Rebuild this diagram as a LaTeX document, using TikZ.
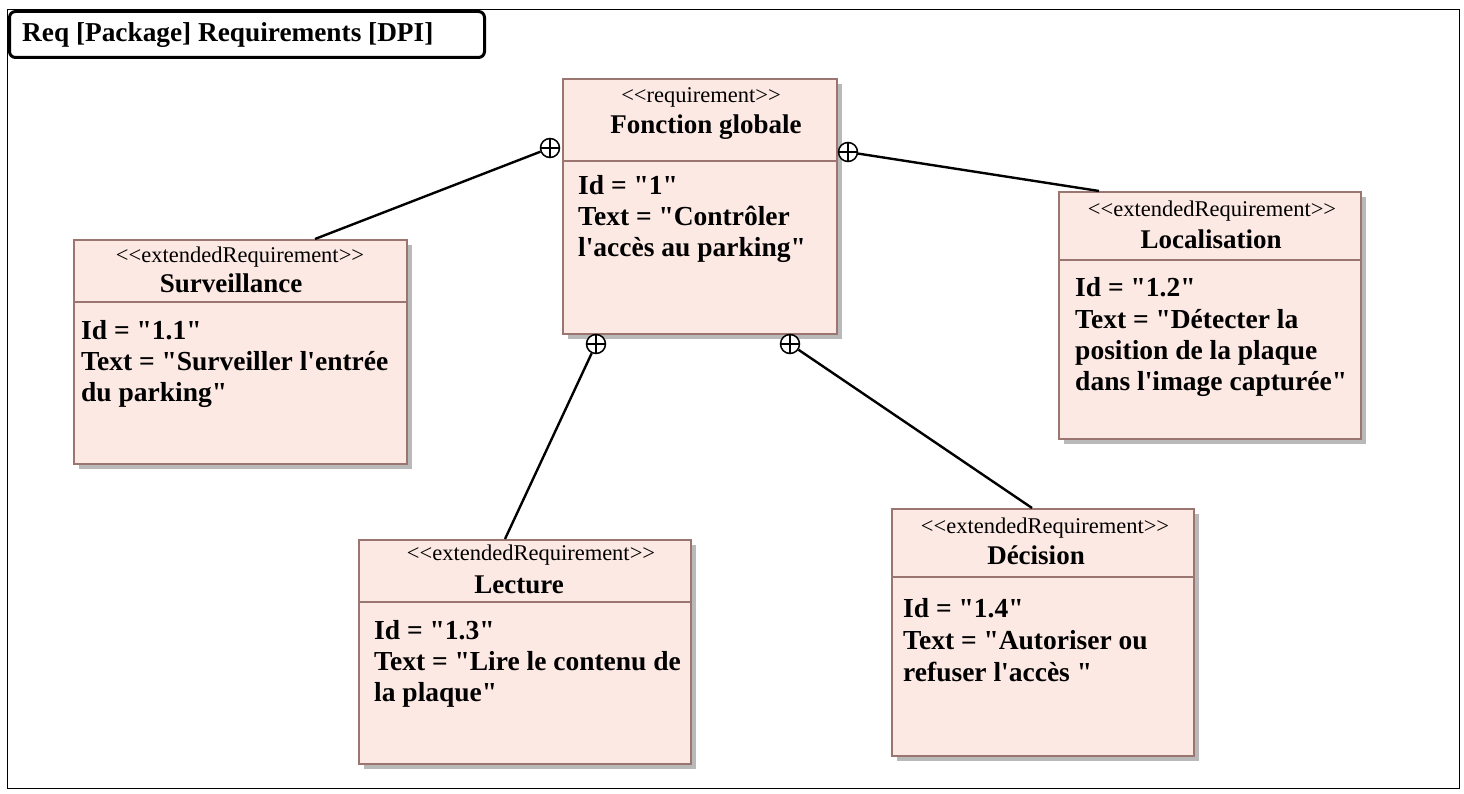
\documentclass[tikz,border=0pt]{standalone}
\usepackage{fontspec}
\newfontfamily\tnr{Liberation Serif}
\usetikzlibrary{shadows}
\definecolor{reqfill}{RGB}{253,233,228}
\definecolor{reqdraw}{RGB}{155,118,112}
\begin{document}
\begin{tikzpicture}[x=1pt,y=-1pt,
  reqbox/.style={draw=reqdraw, fill=reqfill, line width=1.6pt, rectangle, inner sep=0pt, anchor=north west,
    drop shadow={shadow xshift=5pt, shadow yshift=-5pt, fill=gray!55, opacity=1}},
  sepline/.style={draw=reqdraw, line width=1.2pt},
  stereo/.style={font=\tnr\fontsize{22.5}{26}\selectfont, anchor=base, inner sep=0pt},
  rname/.style={font=\tnr\bfseries\fontsize{27}{31}\selectfont, anchor=base, inner sep=0pt},
  body/.style={font=\tnr\bfseries\fontsize{27.5}{31}\selectfont, anchor=base west, inner sep=0pt},
  contain/.style={circle, draw, line width=1.5pt, fill=white, minimum size=19pt, inner sep=0pt,
    path picture={\draw[line width=1.3pt] (path picture bounding box.north) -- (path picture bounding box.south)
      (path picture bounding box.west) -- (path picture bounding box.east);}},
  link/.style={line width=2.4pt, black}]
\useasboundingbox (0,0) rectangle (1464,794);
\fill[white] (0,0) rectangle (1464,794);
% frame and title tab
\node[draw, line width=1.4pt, anchor=north west, minimum width=1452pt, minimum height=779pt, inner sep=0pt] (frame) at (7,9) {};
\node[draw, rounded corners=6pt, line width=3pt, fill=white, anchor=north west, minimum width=475pt, minimum height=46pt, inner sep=0pt] (tab) at (8,10) {};
\node[font=\tnr\bfseries\fontsize{27.3}{31}\selectfont, anchor=base west, inner sep=0pt] (title) at (22,42) {Req [Package] Requirements [DPI]};

% Fonction globale
\node[reqbox, minimum width=274pt, minimum height=255pt] (fg) at (562,78) {};
\draw[sepline] (562,161) -- (836,161);
\node[stereo] (fgs) at (701,103) {<<requirement>>};
\node[rname] (fgn) at (706,134) {Fonction globale};
\node[body] (fg1) at (578,195) {Id = "1"};
\node[body] (fg2) at (578,226) {Text = "Contrôler};
\node[body] (fg3) at (578,257) {l'accès au parking"};

% Surveillance
\node[reqbox, minimum width=333pt, minimum height=224pt] (sv) at (73,239) {};
\draw[sepline] (73,302) -- (406,302);
\node[stereo] (svs) at (240,263) {<<extendedRequirement>>};
\node[rname] (svn) at (231,293) {Surveillance};
\node[body] (sv1) at (81,339) {Id = "1.1"};
\node[body] (sv2) at (81,370) {Text = "Surveiller l'entrée};
\node[body] (sv3) at (81,401) {du parking"};

% Localisation
\node[reqbox, minimum width=302pt, minimum height=247pt] (lc) at (1058,191) {};
\draw[sepline] (1058,260) -- (1360,260);
\node[stereo] (lcs) at (1212,217) {<<extendedRequirement>>};
\node[rname] (lcn) at (1211,249) {Localisation};
\node[body] (lc1) at (1075,297) {Id = "1.2"};
\node[body] (lc2) at (1075,328) {Text = "Détecter la};
\node[body] (lc3) at (1075,359) {position de la plaque};
\node[body] (lc4) at (1075,390) {dans l'image capturée"};

% Lecture
\node[reqbox, minimum width=332pt, minimum height=224pt] (lt) at (358,539) {};
\draw[sepline] (358,602) -- (690,602);
\node[stereo] (lts) at (531,560) {<<extendedRequirement>>};
\node[rname] (ltn) at (519,593) {Lecture};
\node[body] (lt1) at (374,639) {Id = "1.3"};
\node[body] (lt2) at (374,670) {Text = "Lire le contenu de};
\node[body] (lt3) at (374,701) {la plaque"};

% Decision
\node[reqbox, minimum width=302pt, minimum height=247pt] (dc) at (891,508) {};
\draw[sepline] (891,577) -- (1193,577);
\node[stereo] (dcs) at (1045,533) {<<extendedRequirement>>};
\node[rname] (dcn) at (1036,564) {Décision};
\node[body] (dc1) at (903,617) {Id = "1.4"};
\node[body] (dc2) at (903,649) {Text = "Autoriser ou};
\node[body] (dc3) at (903,681) {refuser l'accès "};

% connectors (containment)
\node[contain] (k1) at (550,148) {};
\node[contain] (k2) at (848,152) {};
\node[contain] (k3) at (596,344) {};
\node[contain] (k4) at (790,344) {};
\coordinate (a1) at (315,239);
\coordinate (a2) at (1099,191);
\coordinate (a3) at (505,539);
\coordinate (a4) at (1032,508);
\draw[link] (k1) -- (a1);
\draw[link] (k2) -- (a2);
\draw[link] (k3) -- (a3);
\draw[link] (k4) -- (a4);
\end{tikzpicture}
\end{document}
